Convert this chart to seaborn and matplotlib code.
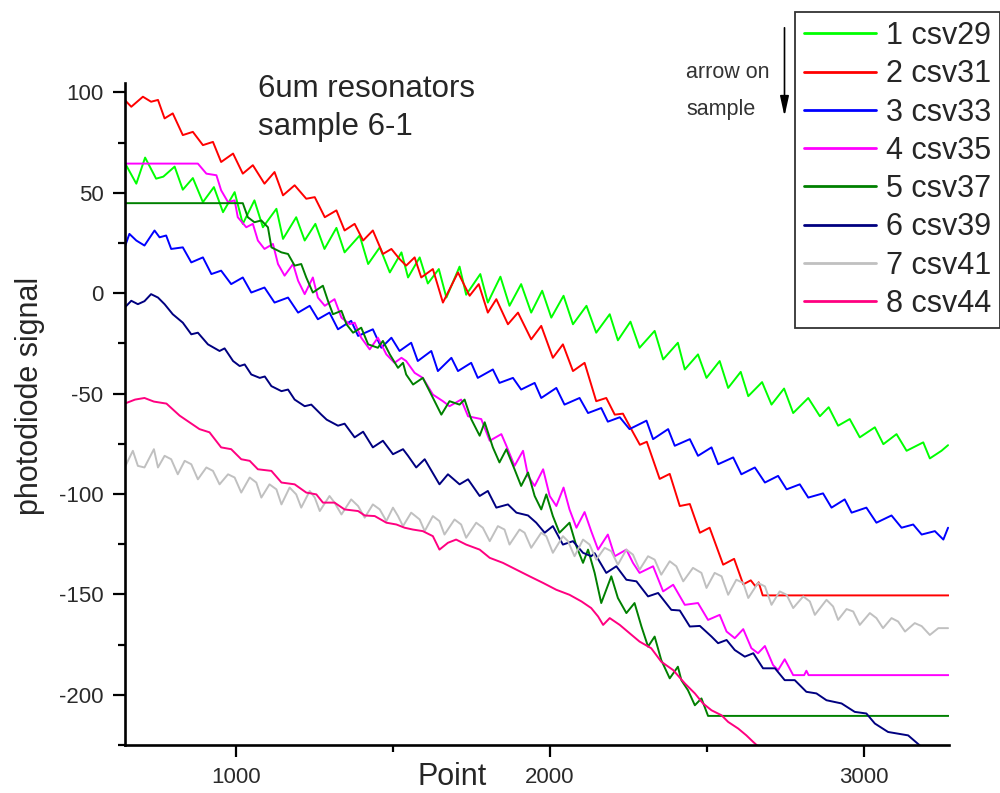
import matplotlib
matplotlib.use("Agg")
import matplotlib.pyplot as plt
import pandas as pd
import seaborn as sns

sns.set_style("ticks")
plt.rcParams["font.family"] = ["Liberation Sans", "DejaVu Sans"]
plt.rcParams["axes.unicode_minus"] = False

# values (peaks / troughs of each trace)
csv29_x = [647, 684, 712, 747, 770, 806, 832, 864, 896, 931, 960, 997, 1023, 1060, 1087, 1130, 1151, 1193, 1220, 1254,
           1283, 1321, 1347, 1395, 1422, 1459, 1491, 1528, 1549, 1586, 1612, 1647, 1671, 1713, 1734, 1779, 1803, 1843,
           1872, 1909, 1941, 1976, 2005, 2044, 2074, 2117, 2148, 2191, 2217, 2257, 2286, 2334, 2361, 2408, 2430, 2472,
           2499, 2541, 2568, 2608, 2632, 2676, 2706, 2746, 2775, 2823, 2860, 2888, 2918, 2955, 2987, 3035, 3062, 3104,
           3136, 3189, 3210, 3247, 3268]
csv29_y = [65, 54.5, 67.5, 57, 58, 63, 51.5, 57.3, 45.3, 52.8, 40.3, 50.3, 34.5, 46.2, 32.8, 42, 27, 37.8, 26.2, 34.5,
           22, 32.5, 20.3, 28.7, 14.5, 22.8, 10.3, 20.3, 7.8, 17.8, 4.8, 12, -2.2, 13.2, -0.8, 9.5, -4.7, 8.2,
           -6.3, 4.5, -9.7, 1.2, -12.2, -1.3, -15.5, -6.3, -19.7, -10.5, -23.5, -14.2, -27.2, -18.8, -33, -24.7, -38, -30.5,
           -42.2, -33.8, -47.2, -39.2, -51.3, -44.3, -55.5, -47.5, -59.7, -52.2, -61.3, -56.8, -66, -62.7, -71.8, -66.8, -75.2, -70.2,
           -78.5, -74.3, -82.3, -78.5, -75.7]

csv31_x = [647, 668, 705, 731, 753, 774, 800, 832, 864, 896, 928, 954, 992, 1023, 1055, 1092, 1124, 1151, 1188, 1225,
           1252, 1284, 1321, 1347, 1379, 1406, 1437, 1469, 1496, 1522, 1543, 1570, 1591, 1628, 1660, 1708, 1745, 1774,
           1803, 1830, 1867, 1899, 1941, 1973, 2010, 2042, 2074, 2111, 2148, 2180, 2207, 2233, 2264, 2287, 2309, 2350,
           2382, 2414, 2446, 2478, 2509, 2552, 2587, 2616, 2640, 2655, 2665, 2678, 3270]
csv31_y = [96.2, 92.8, 97.8, 95.3, 96.2, 87, 89.5, 78.7, 80.3, 73.7, 75.3, 65.3, 69.5, 59.5, 63.7, 54.5, 60.3, 48.7, 53.7, 47,
           47.8, 37.8, 41.2, 31.2, 34.5, 26.2, 31.2, 19.5, 22, 17, 13.7, 17.8, 7.8, 12, -4.7, 10.3, -1.3, 4.5,
           -9.7, -3, -15.5, -9.7, -23, -16.3, -32.2, -25.5, -38.8, -34.7, -53.8, -52.2, -60.5, -60, -69, -75.5, -74, -92.5,
           -90, -106, -105, -119.3, -116.8, -135.2, -132.3, -145, -143, -146, -144, -150.5, -150.5]

csv33_x = [647, 662, 684, 710, 742, 758, 779, 795, 832, 859, 896, 923, 954, 986, 1023, 1050, 1092, 1124, 1167, 1199,
           1236, 1262, 1299, 1326, 1368, 1390, 1437, 1464, 1496, 1522, 1559, 1580, 1623, 1644, 1687, 1708, 1750, 1771,
           1819, 1840, 1883, 1909, 1952, 1973, 2021, 2047, 2095, 2122, 2164, 2185, 2223, 2254, 2308, 2329, 2377, 2398,
           2446, 2472, 2515, 2536, 2584, 2610, 2653, 2685, 2727, 2754, 2796, 2823, 2870, 2897, 2939, 2961, 3008, 3040,
           3088, 3120, 3157, 3184, 3226, 3253, 3268]
csv33_y = [22.8, 29.5, 26.2, 23.7, 31.2, 27.8, 28.7, 22, 22.8, 15.3, 17.8, 9.5, 11.2, 4.5, 7.8, 0.3, 2.8, -4.7, -2.2, -9.7,
           -6.3, -13, -9.7, -18, -13.8, -21.3, -18, -27.2, -22.2, -28.8, -24.7, -33.8, -28.8, -38.8, -32.2, -38.8, -34.7, -42.2,
           -38, -44.7, -42.2, -48, -44.7, -52.2, -47.2, -55.5, -52.2, -59.7, -57.2, -64, -61.8, -67.7, -63.5, -72.7, -67.7, -76,
           -72.7, -81, -76.8, -85.2, -81.8, -90.2, -86.8, -94.3, -91, -97.7, -95.2, -101.8, -99.7, -106.8, -102.7, -109.3, -106.8, -114.3,
           -110.7, -116.8, -115.2, -120.2, -118.5, -122.7, -116.8]

csv35_x = [647, 880, 907, 939, 954, 976, 997, 1007, 1034, 1055, 1071, 1092, 1119, 1135, 1156, 1183, 1199, 1220, 1246, 1262,
           1284, 1315, 1337, 1363, 1379, 1400, 1427, 1453, 1480, 1506, 1528, 1543, 1570, 1596, 1628, 1660, 1681, 1718,
           1740, 1782, 1809, 1846, 1862, 1888, 1915, 1931, 1952, 1979, 2000, 2021, 2044, 2063, 2085, 2111, 2132, 2154,
           2185, 2207, 2244, 2265, 2286, 2329, 2361, 2393, 2430, 2472, 2504, 2541, 2563, 2589, 2616, 2642, 2663, 2685,
           2711, 2727, 2748, 2775, 2810, 2817, 2824, 3270]
csv35_y = [64.5, 64.5, 59.5, 58.7, 51.2, 45.3, 46.2, 37.8, 32.8, 34.5, 26.2, 22, 24.5, 14.5, 8.7, 14.5, 6.2, -0.5, 7.8, -2.2,
           -6.3, -3, -12.2, -15.5, -14.7, -22.2, -28, -22.2, -30.5, -34.7, -32.2, -33.8, -39.7, -42.2, -50.5, -53.8, -56.3, -53,
           -61.3, -62.7, -73.5, -70.2, -76, -86, -78.5, -91, -96, -87.7, -101, -106, -96.8, -107.7, -116.8, -109, -118.5, -127.7,
           -120.2, -131, -127.7, -134.3, -139.3, -136, -148.5, -145.2, -155.2, -154.3, -162.7, -160.2, -168.5, -171.8, -167.3, -176.8, -179.3, -175.7,
           -185.2, -187.7, -182.3, -190.2, -190.2, -188, -190.2, -190.2]

csv37_x = [647, 1023, 1039, 1060, 1082, 1103, 1114, 1146, 1167, 1188, 1209, 1225, 1246, 1278, 1294, 1310, 1337, 1353, 1374, 1400,
           1422, 1453, 1469, 1491, 1517, 1533, 1543, 1565, 1596, 1623, 1655, 1681, 1713, 1729, 1750, 1777, 1793, 1819,
           1840, 1862, 1888, 1909, 1931, 1952, 1973, 1989, 2010, 2031, 2063, 2085, 2106, 2122, 2143, 2164, 2196, 2217,
           2244, 2270, 2292, 2313, 2334, 2355, 2382, 2408, 2419, 2440, 2462, 2483, 2504, 3270]
csv37_y = [44.8, 44.8, 37.8, 35.3, 36.2, 32.8, 22.8, 20.3, 19.5, 13.7, 14.5, 7.8, 0.3, 3.7, -3.8, -10.5, -8.8, -15.5, -19.7, -17.2,
           -25.5, -27.2, -23.8, -30.5, -37.2, -34.7, -40.5, -45.5, -42.2, -50.5, -60.5, -53.8, -55.5, -53, -62.7, -71, -64.3, -76.8,
           -84.3, -77.7, -87.7, -96, -89.3, -101, -107.7, -100.2, -111, -119.3, -114.3, -126, -134.3, -127.7, -139.3, -154.3, -141, -151.8,
           -159.3, -154.3, -166, -176, -171, -182.7, -191.8, -186, -192.7, -197.7, -205.2, -201.8, -210.5, -210.5]

csv39_x = [647, 668, 689, 710, 731, 753, 774, 800, 832, 859, 880, 912, 949, 965, 992, 1013, 1029, 1050, 1077, 1093,
           1114, 1146, 1167, 1188, 1220, 1241, 1273, 1290, 1326, 1347, 1379, 1406, 1437, 1469, 1501, 1533, 1549, 1575,
           1602, 1649, 1676, 1713, 1740, 1777, 1803, 1830, 1867, 1894, 1931, 1957, 1984, 2010, 2042, 2074, 2106, 2132,
           2143, 2180, 2212, 2244, 2276, 2313, 2345, 2387, 2414, 2446, 2478, 2515, 2536, 2563, 2589, 2621, 2648, 2679,
           2717, 2748, 2780, 2817, 2849, 2881, 2929, 2971, 3008, 3035, 3077, 3141, 3184, 3270]
csv39_y = [-7.2, -3.8, -5.5, -4, -0.5, -2.2, -5.5, -10.5, -14.7, -20.5, -19.7, -25.5, -28.8, -27.5, -33.8, -36.3, -35.5, -40.5, -42.2, -41.5,
           -46.3, -48.8, -48, -53, -56.3, -55.5, -60.5, -63, -66, -65, -71.8, -69, -76.8, -73.5, -80.2, -77.7, -81, -86.8,
           -82.7, -95.2, -90.2, -95.2, -92.7, -101, -98.5, -106.8, -105.2, -109.3, -110.7, -114.3, -119.3, -116, -125.2, -123.5, -129.3, -131,
           -129.5, -139.3, -136, -142.7, -143.5, -151, -149.3, -157.7, -158, -166, -165.7, -171, -174.3, -172.7, -177.7, -181, -179.3, -186.8,
           -186.8, -192.7, -192.7, -198.5, -199.3, -202.7, -204.3, -208.5, -209.3, -214.3, -218.5, -220.2, -226, -226.5]

csv41_x = [647, 673, 689, 710, 740, 753, 774, 795, 816, 838, 859, 880, 907, 928, 949, 976, 997, 1018, 1045, 1066,
           1082, 1108, 1130, 1146, 1172, 1193, 1209, 1236, 1252, 1268, 1299, 1315, 1337, 1368, 1390, 1411, 1437, 1459,
           1480, 1501, 1517, 1533, 1559, 1586, 1602, 1628, 1649, 1665, 1697, 1718, 1734, 1766, 1787, 1809, 1835, 1856,
           1872, 1904, 1920, 1941, 1973, 1989, 2010, 2042, 2058, 2079, 2106, 2127, 2148, 2175, 2196, 2217, 2244, 2265,
           2286, 2313, 2334, 2355, 2382, 2403, 2425, 2456, 2483, 2499, 2525, 2547, 2568, 2594, 2616, 2632, 2663, 2685,
           2706, 2732, 2754, 2775, 2807, 2828, 2844, 2881, 2902, 2918, 2945, 2966, 2987, 3019, 3040, 3061, 3088, 3109,
           3131, 3162, 3184, 3210, 3237, 3268]
csv41_y = [-86.8, -78.5, -86, -86.8, -77.7, -86.8, -81, -82.7, -90.2, -83.5, -85.2, -92.7, -86.8, -88.5, -95.2, -90.2, -91.8, -99.3, -91.8, -94.3,
           -101.8, -95.2, -97.7, -105.2, -96.8, -100.2, -106.8, -98.5, -101.8, -108.5, -101, -104.3, -110.2, -102.7, -106, -111.8, -105.2, -107.7,
           -113.5, -106.8, -111, -116, -109.3, -112.7, -118.5, -111, -113.5, -120.2, -112.7, -115.2, -121.8, -114.3, -116.8, -123.5, -116, -117.7,
           -125.2, -117.7, -119.3, -126.8, -119.3, -121, -129.3, -121, -123.5, -131, -122.7, -125.2, -132.7, -126.8, -128.5, -135.2, -127.7, -130.2,
           -137.7, -131, -132.7, -140.2, -133.5, -136, -143.5, -136.8, -139.3, -146.8, -139.3, -141, -150.2, -142.7, -144.3, -151.8, -144.3, -146,
           -155.2, -148.5, -150.2, -156.8, -151, -153.5, -160.2, -152.7, -156, -162.7, -157.3, -158.5, -165.2, -159.3, -161.8, -166.8, -161.8, -163.5,
           -168.5, -164.3, -165.8, -170.2, -166.8, -166.8]

csv44_x = [647, 680, 710, 740, 780, 822, 838, 885, 917, 954, 986, 1018, 1045, 1071, 1114, 1146, 1188, 1225, 1257, 1278,
           1315, 1347, 1390, 1411, 1443, 1480, 1512, 1538, 1564, 1596, 1628, 1649, 1676, 1702, 1734, 1777, 1809, 1851,
           1894, 1936, 1979, 2021, 2063, 2101, 2132, 2154, 2170, 2191, 2223, 2254, 2286, 2323, 2355, 2393, 2430, 2462,
           2488, 2515, 2547, 2568, 2600, 2626, 2648, 2669, 2690]
csv44_y = [-55, -53, -52.2, -54, -55, -61, -62.7, -67.7, -69.3, -76.8, -77.7, -82.7, -83.5, -87.7, -88.5, -94.3, -95.2, -99.3, -100.2, -104.3,
           -104.3, -107.7, -108.5, -110.7, -111, -114.3, -115.2, -116.8, -117.7, -118.5, -121, -127.7, -124.3, -122.7, -125.2, -127.7, -131.8, -134.3,
           -137.7, -141, -144.3, -147.7, -150.2, -153.5, -156.8, -161, -165.2, -161.8, -165.2, -169.3, -173.5, -176.8, -183.5, -187.7, -194.3, -199.3,
           -204.3, -207.7, -210.2, -213.5, -216.8, -220.2, -223.5, -226.5, -229.5]

labels = ["1 csv29", "2 csv31", "3 csv33", "4 csv35", "5 csv37", "6 csv39", "7 csv41", "8 csv44"]
xs = [csv29_x, csv31_x, csv33_x, csv35_x, csv37_x, csv39_x, csv41_x, csv44_x]
ys = [csv29_y, csv31_y, csv33_y, csv35_y, csv37_y, csv39_y, csv41_y, csv44_y]
colors = ["#00ff00", "#ff0000", "#0000ff", "#ff00ff", "#008000", "#000080", "#c0c0c0", "#ff0080"]

fig = plt.figure(figsize=(10, 7.93), dpi=100)
ax = fig.add_axes([0.125, 0.0605, 0.824, 0.8345])

for label, x, y, color in zip(labels, xs, ys, colors):
    df = pd.DataFrame({"Point": x, "signal": y})
    sns.lineplot(data=df, x="Point", y="signal", ax=ax, color=color, linewidth=1.4,
                 label=label, estimator=None, sort=False)

ax.set_xlim(648, 3271)
ax.set_ylim(-225, 104.5)
ax.set_xticks([1000, 2000, 3000])
ax.set_xticks([1500, 2500], minor=True)
ax.set_yticks(range(-200, 101, 50))
ax.set_yticks(range(-225, 101, 50), minor=True)
ax.tick_params(which="major", length=8.5, width=1.6, direction="out", labelsize=16,
               labelcolor="#2a2a2a", pad=7, color="black")
ax.tick_params(which="minor", length=5, width=1.6, direction="out", color="black")

sns.despine(ax=ax)
for side in ["left", "bottom"]:
    ax.spines[side].set_linewidth(1.9)
    ax.spines[side].set_color("black")

ax.set_xlabel("Point", fontsize=22)
ax.xaxis.label.set_verticalalignment("center")
ax.xaxis.set_label_coords(0.397, -0.049)
ax.set_ylabel("photodiode signal", fontsize=22)
ax.yaxis.label.set_verticalalignment("center")
ax.yaxis.set_label_coords(-0.115, 0.527)

fig.text(0.258, 1 - 97 / 793, "6um resonators", fontsize=22.5, va="baseline")
fig.text(0.258, 1 - 135 / 793, "sample 6-1", fontsize=22.5, va="baseline")

fig.text(0.686, 1 - 78 / 793, "arrow on", fontsize=15.5, color="#333333", va="baseline")
fig.text(0.686, 1 - 115 / 793, "sample", fontsize=15.5, color="#333333", va="baseline")
ax.annotate("", xy=(0.7845, 1 - 119 / 793), xytext=(0.7845, 1 - 25 / 793),
            xycoords="figure fraction", textcoords="figure fraction",
            arrowprops=dict(arrowstyle="-|>,head_length=1.0,head_width=0.22",
                            color="black", lw=1.2, mutation_scale=12),
            annotation_clip=False)

leg = ax.legend(loc="upper left", bbox_to_anchor=(0.795, 0.985), bbox_transform=fig.transFigure,
                fontsize=22, frameon=True, fancybox=False, edgecolor="#333333", framealpha=1,
                borderaxespad=0, borderpad=0.3, labelspacing=0.27, handlelength=2.35,
                handletextpad=0.33)
leg.get_frame().set_linewidth(1.3)
for line in leg.get_lines():
    line.set_linewidth(2)

fig.savefig("out.png", dpi=100)
